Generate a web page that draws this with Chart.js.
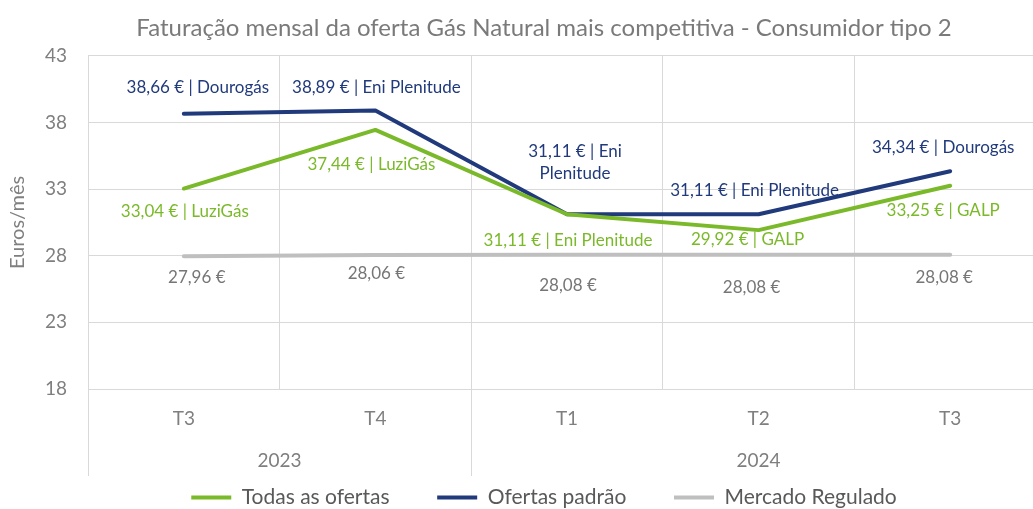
<!DOCTYPE html>
<html>
<head>
<meta charset="utf-8">
<script src="https://cdn.jsdelivr.net/npm/chart.js@4"></script>
<style>
html, body { margin:0; padding:0; overflow:hidden; background:#fff; }
#wrap { width:1088px; height:518px; position:relative; }
</style>
</head>
<body>
<div id="wrap"><canvas id="myChart"></canvas></div>
<script>
// dados
var trimestres = ['T3','T4','T1','T2','T3'];
var anos = ['2023','2024'];
var trimestresPorAno = [2,3];

var todasOfertas = [33.04, 37.44, 31.11, 29.92, 33.25];
var todasComercializador = ['LuziGás','LuziGás','Eni Plenitude','GALP','GALP'];
var ofertasPadrao = [38.66, 38.89, 31.11, 31.11, 34.34];
var padraoComercializador = ['Dourogás','Eni Plenitude','Eni Plenitude','Eni Plenitude','Dourogás'];
var mercadoRegulado = [27.96, 28.06, 28.08, 28.08, 28.08];

var verde = '#7ab929', azul = '#213a7c', cinza = '#bfbfbf';
var cinzaTexto = '#7f7f7f', gridCor = '#d9d9d9';
var fonte = 'Lato';

// deslocamento das etiquetas (px) relativo ao ponto
var offsets = [
    [[1,23],[-4,35],[1,26],[-11,9],[-7,25]],
    [[14,-26],[1,-23],[8,-63],[-4,-24],[-7,-24]],
    [[13,21],[1,19],[1,31],[-7,33],[-6,23]]
];
var quebrar = {'1-2': true};
var corEtiqueta = [verde, azul, '#767676'];

function euros(v) {
    return v.toFixed(2).replace('.', ',') + ' €';
}

function textoEtiqueta(ds, i) {
    if (ds == 0) return euros(todasOfertas[i]) + ' | ' + todasComercializador[i];
    if (ds == 1) return euros(ofertasPadrao[i]) + ' | ' + padraoComercializador[i];
    return euros(mercadoRegulado[i]);
}

var etiquetas = {
    id: 'etiquetas',
    afterDatasetsDraw: function(chart) {
        var ctx = chart.ctx;
        ctx.save();
        ctx.font = '17px ' + fonte;
        ctx.textAlign = 'center';
        ctx.textBaseline = 'middle';
        chart.data.datasets.forEach(function(d, ds) {
            var meta = chart.getDatasetMeta(ds);
            if (meta.hidden) return;
            ctx.fillStyle = corEtiqueta[ds];
            meta.data.forEach(function(pt, i) {
                var txt = textoEtiqueta(ds, i);
                var off = offsets[ds][i];
                var linhas = [txt];
                if (quebrar[ds + '-' + i]) {
                    var k = txt.lastIndexOf(' ');
                    linhas = [txt.substring(0, k), txt.substring(k + 1)];
                }
                linhas.forEach(function(l, n) {
                    ctx.fillText(l, pt.x + off[0], pt.y + off[1] + n * 22);
                });
            });
        });
        ctx.restore();
    }
};

var eixoAnos = {
    id: 'eixoAnos',
    afterDraw: function(chart) {
        var ctx = chart.ctx;
        var xs = chart.scales.x;
        var area = chart.chartArea;
        var w = xs.getPixelForValue(1) - xs.getPixelForValue(0);
        var borda = function(i) { return xs.getPixelForValue(0) + (i - 0.5) * w; };
        ctx.save();
        ctx.strokeStyle = gridCor;
        ctx.lineWidth = 1;
        ctx.font = '19px ' + fonte;
        ctx.fillStyle = cinzaTexto;
        ctx.textAlign = 'center';
        ctx.textBaseline = 'middle';
        var inicio = 0;
        var linha = function(i) {
            var x = Math.round(borda(i)) + 0.5;
            ctx.beginPath();
            ctx.moveTo(x, area.bottom);
            ctx.lineTo(x, area.bottom + 87);
            ctx.stroke();
        };
        linha(0);
        for (var a = 0; a < anos.length; a++) {
            var fim = inicio + trimestresPorAno[a];
            linha(fim);
            ctx.fillText(anos[a], (borda(inicio) + borda(fim)) / 2, area.bottom + 72);
            inicio = fim;
        }
        ctx.restore();
    }
};

var ctx = document.getElementById('myChart').getContext('2d');
var chart = new Chart(ctx, {
    type: 'line',
    data: {
        labels: trimestres,
        datasets: [
            {label: 'Todas as ofertas', data: todasOfertas, borderColor: verde, backgroundColor: verde},
            {label: 'Ofertas padrão', data: ofertasPadrao, borderColor: azul, backgroundColor: azul},
            {label: 'Mercado Regulado', data: mercadoRegulado, borderColor: cinza, backgroundColor: cinza}
        ]
    },
    options: {
        responsive: true,
        maintainAspectRatio: false,
        animation: false,
        layout: {padding: {left: 42, right: 42, top: 0, bottom: 0}},
        elements: {
            line: {borderWidth: 4, tension: 0, borderCapStyle: 'round', borderJoinStyle: 'round'},
            point: {radius: 0, hoverRadius: 0}
        },
        scales: {
            x: {
                offset: true,
                grid: {offset: true, color: gridCor, drawTicks: false},
                border: {display: false},
                ticks: {color: cinzaTexto, font: {family: fonte, size: 19}, padding: 18},
                afterFit: function(scale) { scale.height = 88; }
            },
            y: {
                min: 18,
                max: 43,
                grid: {color: gridCor, drawTicks: false},
                border: {display: false},
                ticks: {stepSize: 5, color: cinzaTexto, font: {family: fonte, size: 19}, padding: 21},
                title: {display: true, text: 'Euros/mês', color: cinzaTexto, font: {family: fonte, size: 20}, padding: {top: -36, bottom: 0}},
                afterFit: function(scale) { scale.width = 46; }
            }
        },
        plugins: {
            title: {
                display: true,
                text: 'Faturação mensal da oferta Gás Natural mais competitiva - Consumidor tipo 2',
                color: '#7a7a7a',
                font: {family: fonte, size: 24, weight: 'normal'},
                padding: {top: 14, bottom: 13}
            },
            legend: {
                position: 'bottom',
                labels: {
                    color: '#595959',
                    font: {family: fonte, size: 21},
                    boxWidth: 40,
                    boxHeight: 4,
                    padding: 10,
                    generateLabels: function(chart) {
                        var items = Chart.defaults.plugins.legend.labels.generateLabels(chart);
                        items.forEach(function(it, i) {
                            it.lineWidth = 0;
                            if (i < items.length - 1) it.text = it.text + '       ';
                        });
                        return items;
                    }
                }
            },
            tooltip: {enabled: false}
        }
    },
    plugins: [etiquetas, eixoAnos]
});
</script>
</body>
</html>
